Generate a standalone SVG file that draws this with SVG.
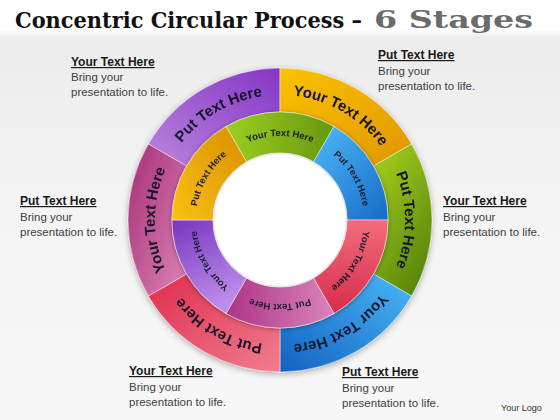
<svg xmlns="http://www.w3.org/2000/svg" xmlns:xlink="http://www.w3.org/1999/xlink" width="560" height="420" viewBox="0 0 560 420">
<defs>
  <linearGradient id="bg" x1="0" y1="0" x2="0" y2="1">
    <stop offset="0" stop-color="#ffffff"/>
    <stop offset="0.07" stop-color="#ffffff"/>
    <stop offset="0.09" stop-color="#ececec"/>
    <stop offset="0.5" stop-color="#f4f4f4"/>
    <stop offset="1" stop-color="#f7f7f7"/>
  </linearGradient>
  <linearGradient id="oPurple" x1="1" y1="0" x2="0" y2="1"><stop offset="0" stop-color="#8636c6"/><stop offset="1" stop-color="#b984dc"/></linearGradient>
  <linearGradient id="oOrange" x1="0" y1="0" x2="1" y2="1"><stop offset="0" stop-color="#fbc200"/><stop offset="1" stop-color="#e09600"/></linearGradient>
  <linearGradient id="oGreen" x1="0" y1="0" x2="0.6" y2="1"><stop offset="0" stop-color="#a8d41e"/><stop offset="1" stop-color="#5a880c"/></linearGradient>
  <linearGradient id="oBlue" x1="1" y1="0" x2="0" y2="1"><stop offset="0" stop-color="#4ab8f6"/><stop offset="1" stop-color="#1262c2"/></linearGradient>
  <linearGradient id="oRed" x1="0" y1="0" x2="1" y2="1"><stop offset="0" stop-color="#e02c4c"/><stop offset="1" stop-color="#f07e8e"/></linearGradient>
  <linearGradient id="oMagenta" x1="0" y1="0" x2="1" y2="1"><stop offset="0" stop-color="#a62e76"/><stop offset="1" stop-color="#dc84b8"/></linearGradient>
  <linearGradient id="mOrange" x1="0" y1="1" x2="1" y2="0"><stop offset="0" stop-color="#fac010"/><stop offset="1" stop-color="#d69000"/></linearGradient>
  <linearGradient id="mGreen" x1="0" y1="0" x2="1" y2="0"><stop offset="0" stop-color="#9ccf22"/><stop offset="1" stop-color="#66980e"/></linearGradient>
  <linearGradient id="mBlue" x1="0" y1="0" x2="1" y2="1"><stop offset="0" stop-color="#4cbaf8"/><stop offset="1" stop-color="#186ac6"/></linearGradient>
  <linearGradient id="mRed" x1="0" y1="0" x2="0" y2="1"><stop offset="0" stop-color="#f26c7c"/><stop offset="1" stop-color="#d62c4c"/></linearGradient>
  <linearGradient id="mPink" x1="0" y1="0" x2="1" y2="0"><stop offset="0" stop-color="#ac3486"/><stop offset="1" stop-color="#da84ba"/></linearGradient>
  <linearGradient id="mPurple" x1="0" y1="0" x2="0.4" y2="1"><stop offset="0" stop-color="#7636be"/><stop offset="1" stop-color="#bc8cea"/></linearGradient>
  <filter id="shadow" x="-20%" y="-20%" width="140%" height="140%">
    <feDropShadow dx="0" dy="2" stdDeviation="3" flood-color="#000" flood-opacity="0.3"/>
  </filter>
  <filter id="shadowS" x="-20%" y="-20%" width="140%" height="140%">
    <feDropShadow dx="0" dy="1" stdDeviation="2.5" flood-color="#000" flood-opacity="0.35"/>
  </filter>
  <path id="tA" d="M171.75,157.5 A125,125 0 0 1 280,95"/>
  <path id="tB" d="M280,95 A125,125 0 0 1 388.25,157.5"/>
  <path id="tC" d="M388.25,157.5 A125,125 0 0 1 388.25,282.5"/>
  <path id="tD" d="M388.25,282.5 A125,125 0 0 1 280,345"/>
  <path id="tE" d="M280,345 A125,125 0 0 1 171.75,282.5"/>
  <path id="tF" d="M171.75,282.5 A125,125 0 0 1 171.75,157.5"/>
  <path id="mA" d="M238,147.25 A84,84 0 0 1 322,147.25"/>
  <path id="mB" d="M322,147.25 A84,84 0 0 1 364,220"/>
  <path id="mC" d="M364,220 A84,84 0 0 1 322,292.75"/>
  <path id="mD" d="M322,292.75 A84,84 0 0 1 238,292.75"/>
  <path id="mE" d="M238,292.75 A84,84 0 0 1 196,220"/>
  <path id="mF" d="M196,220 A84,84 0 0 1 238,147.25"/>
</defs>
<style>
  .title { font-family: "DejaVu Serif", "Liberation Serif", serif; font-weight: bold; font-size: 22px; fill: #111; }
  .sub { fill: #6b6b6b; font-size: 24px; }
  .seg { stroke: #ffffff; stroke-opacity: 0.45; stroke-width: 1; }
  .ot { font-family: "Liberation Sans", Arial, sans-serif; font-weight: bold; font-size: 15px; fill: #16162a; }
  .mt { font-family: "Liberation Sans", Arial, sans-serif; font-weight: bold; font-size: 9.5px; fill: #1c1c2e; }
  .h { font-family: "Liberation Sans", Arial, sans-serif; font-weight: bold; font-size: 12px; fill: #1a1a1a; text-decoration: underline; }
  .b { font-family: "Liberation Sans", Arial, sans-serif; font-size: 11.5px; fill: #404040; }
  .logo { font-family: "Liberation Sans", Arial, sans-serif; font-size: 9px; fill: #333; }
</style>

<rect x="0" y="0" width="560" height="420" fill="url(#bg)"/>

<g id="title">
  <text class="title" x="15" y="28" textLength="347" lengthAdjust="spacingAndGlyphs">Concentric Circular Process –</text>
  <text class="title sub" x="374" y="28" textLength="159" lengthAdjust="spacingAndGlyphs">6 Stages</text>
</g>

<g id="outer-ring" filter="url(#shadow)">
  <g id="outer-purple">
    <path class="seg" fill="url(#oPurple)" d="M148.36,144 A152,152 0 0 1 280,68 L280,112 A108,108 0 0 0 186.47,166 Z"/>
    <text class="ot"><textPath href="#tA" startOffset="50%" text-anchor="middle">Put Text Here</textPath></text>
  </g>
  <g id="outer-orange">
    <path class="seg" fill="url(#oOrange)" d="M280,68 A152,152 0 0 1 411.64,144 L373.53,166 A108,108 0 0 0 280,112 Z"/>
    <text class="ot"><textPath href="#tB" startOffset="50%" text-anchor="middle">Your Text Here</textPath></text>
  </g>
  <g id="outer-green">
    <path class="seg" fill="url(#oGreen)" d="M411.64,144 A152,152 0 0 1 411.64,296 L373.53,274 A108,108 0 0 0 373.53,166 Z"/>
    <text class="ot"><textPath href="#tC" startOffset="50%" text-anchor="middle">Put Text Here</textPath></text>
  </g>
  <g id="outer-blue">
    <path class="seg" fill="url(#oBlue)" d="M411.64,296 A152,152 0 0 1 280,372 L280,328 A108,108 0 0 0 373.53,274 Z"/>
    <text class="ot"><textPath href="#tD" startOffset="50%" text-anchor="middle">Your Text Here</textPath></text>
  </g>
  <g id="outer-red">
    <path class="seg" fill="url(#oRed)" d="M280,372 A152,152 0 0 1 148.36,296 L186.47,274 A108,108 0 0 0 280,328 Z"/>
    <text class="ot"><textPath href="#tE" startOffset="50%" text-anchor="middle">Put Text Here</textPath></text>
  </g>
  <g id="outer-magenta">
    <path class="seg" fill="url(#oMagenta)" d="M148.36,296 A152,152 0 0 1 148.36,144 L186.47,166 A108,108 0 0 0 186.47,274 Z"/>
    <text class="ot"><textPath href="#tF" startOffset="50%" text-anchor="middle">Your Text Here</textPath></text>
  </g>
</g>

<g id="middle-ring" filter="url(#shadowS)">
  <g id="middle-green">
    <path class="seg" fill="url(#mGreen)" d="M226,126.47 A108,108 0 0 1 334,126.47 L313.5,161.98 A67,67 0 0 0 246.5,161.98 Z"/>
    <text class="mt"><textPath href="#mA" startOffset="50%" text-anchor="middle">Your Text Here</textPath></text>
  </g>
  <g id="middle-blue">
    <path class="seg" fill="url(#mBlue)" d="M334,126.47 A108,108 0 0 1 388,220 L347,220 A67,67 0 0 0 313.5,161.98 Z"/>
    <text class="mt"><textPath href="#mB" startOffset="50%" text-anchor="middle">Put Text Here</textPath></text>
  </g>
  <g id="middle-red">
    <path class="seg" fill="url(#mRed)" d="M388,220 A108,108 0 0 1 334,313.53 L313.5,278.02 A67,67 0 0 0 347,220 Z"/>
    <text class="mt"><textPath href="#mC" startOffset="50%" text-anchor="middle">Your Text Here</textPath></text>
  </g>
  <g id="middle-pink">
    <path class="seg" fill="url(#mPink)" d="M334,313.53 A108,108 0 0 1 226,313.53 L246.5,278.02 A67,67 0 0 0 313.5,278.02 Z"/>
    <text class="mt"><textPath href="#mD" startOffset="50%" text-anchor="middle">Put Text Here</textPath></text>
  </g>
  <g id="middle-purple">
    <path class="seg" fill="url(#mPurple)" d="M226,313.53 A108,108 0 0 1 172,220 L213,220 A67,67 0 0 0 246.5,278.02 Z"/>
    <text class="mt"><textPath href="#mE" startOffset="50%" text-anchor="middle">Your Text Here</textPath></text>
  </g>
  <g id="middle-orange">
    <path class="seg" fill="url(#mOrange)" d="M172,220 A108,108 0 0 1 226,126.47 L246.5,161.98 A67,67 0 0 0 213,220 Z"/>
    <text class="mt"><textPath href="#mF" startOffset="50%" text-anchor="middle">Put Text Here</textPath></text>
  </g>
</g>

<g id="center">
  <circle cx="280" cy="220" r="66.5" fill="#ffffff" stroke="#e6e6e6" stroke-width="1.5"/>
</g>

<g id="connectors"></g>

<g id="label-top-left">
  <text class="h" x="71" y="66">Your Text Here</text>
  <text class="b" x="71" y="81">Bring your</text>
  <text class="b" x="71" y="96">presentation to life.</text>
</g>
<g id="label-top-right">
  <text class="h" x="378" y="59">Put Text Here</text>
  <text class="b" x="378" y="75">Bring your</text>
  <text class="b" x="378" y="90">presentation to life.</text>
</g>
<g id="label-left">
  <text class="h" x="20" y="205">Put Text Here</text>
  <text class="b" x="20" y="221">Bring your</text>
  <text class="b" x="20" y="236">presentation to life.</text>
</g>
<g id="label-right">
  <text class="h" x="443" y="205">Your Text Here</text>
  <text class="b" x="443" y="221">Bring your</text>
  <text class="b" x="443" y="236">presentation to life.</text>
</g>
<g id="label-bottom-left">
  <text class="h" x="129" y="375">Your Text Here</text>
  <text class="b" x="129" y="391">Bring your</text>
  <text class="b" x="129" y="406">presentation to life.</text>
</g>
<g id="label-bottom-right">
  <text class="h" x="342" y="376">Put Text Here</text>
  <text class="b" x="342" y="392">Bring your</text>
  <text class="b" x="342" y="407">presentation to life.</text>
</g>
<g id="logo">
  <text class="logo" x="501" y="411">Your Logo</text>
</g>
</svg>
